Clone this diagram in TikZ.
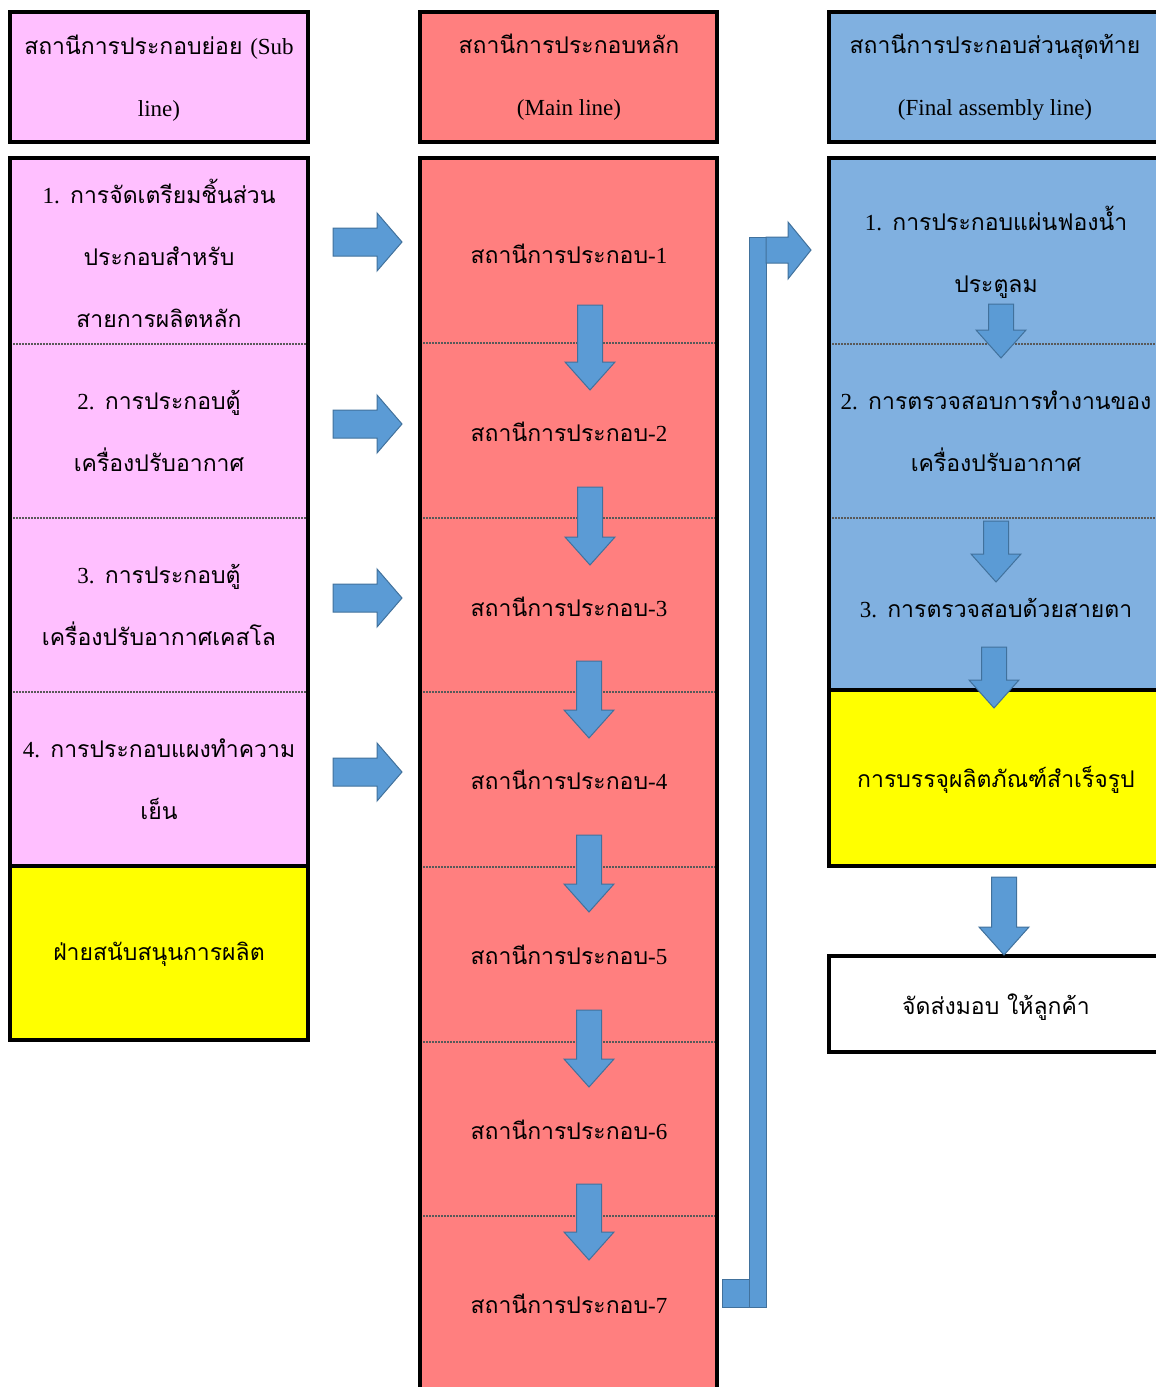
\documentclass[tikz,border=0pt]{standalone}
\usepackage{fontspec}
\setmainfont{Liberation Serif}
\newfontfamily\thai[Script=Thai]{Loma}
\definecolor{pinkc}{HTML}{FFBFFF}
\definecolor{redc}{HTML}{FF7F7F}
\definecolor{bluec}{HTML}{80B0E0}
\definecolor{yelc}{HTML}{FFFF00}
\definecolor{arrf}{HTML}{5B9BD5}
\definecolor{arrd}{HTML}{41719C}
\newcommand{\myRarr}[2]{%
  \draw[arr] (#1,#2-14) -- (#1+44,#2-14) -- (#1+44,#2-29) -- (#1+69,#2) -- (#1+44,#2+29) -- (#1+44,#2+14) -- (#1,#2+14) -- cycle;}
\newcommand{\myDarr}[3]{%
  \draw[arr] (#1-12.5,#2) -- (#1+12.5,#2) -- (#1+12.5,#3-28) -- (#1+25,#3-28) -- (#1,#3) -- (#1-25,#3-28) -- (#1-12.5,#3-28) -- cycle;}
\begin{document}
\begin{tikzpicture}[x=1pt,y=-1pt,
  lbl/.style={font=\thai\fontsize{23}{62}\selectfont, align=center, text=black, inner sep=0pt},
  sep/.style={draw=gray!70!black, line width=2.5pt, dash pattern=on 2pt off 1pt},
  frame/.style={draw=black, line width=4pt},
  arr/.style={fill=arrf, draw=arrd, line width=1pt, line join=miter}]
\useasboundingbox (0,0) rectangle (1156,1387);
% ---------- left column ----------
\fill[pinkc] (10,12) rectangle (308,142);
\draw[frame] (10,12) rectangle (308,142);
\fill[pinkc] (10,158) rectangle (308,866);
\fill[yelc] (10,866) rectangle (308,1040);
\foreach \yy in {344,518,692} \draw[sep] (10,\yy) -- (308,\yy);
\draw[frame] (10,866) -- (308,866);
\draw[frame] (10,158) rectangle (308,1040);
% ---------- middle column ----------
\fill[redc] (420,12) rectangle (717,142);
\draw[frame] (420,12) rectangle (717,142);
\fill[redc] (420,158) rectangle (717,1400);
\foreach \yy in {343,518,692,867,1042,1216} \draw[sep] (420,\yy) -- (717,\yy);
\draw[frame] (420,1400) -- (420,158) -- (717,158) -- (717,1400);
% ---------- right column ----------
\fill[bluec] (829,12) rectangle (1165,142);
\draw[frame] (829,12) rectangle (1165,142);
\fill[bluec] (829,158) rectangle (1165,690);
\fill[yelc] (829,690) rectangle (1165,866);
\foreach \yy in {344,518} \draw[sep] (829,\yy) -- (1165,\yy);
\draw[frame] (829,690) -- (1165,690);
\draw[frame] (829,158) rectangle (1165,866);
\fill[white] (829,956) rectangle (1165,1052);
\draw[frame] (829,956) rectangle (1165,1052);
% ---------- texts ----------
\node[lbl] (lh) at (159,78) {สถานีการประกอบย่อย {\rmfamily (Sub}\\{\rmfamily line)}};
\node[lbl] (l1) at (159,253) {{\rmfamily 1.} การจัดเตรียมชิ้นส่วน\\ประกอบสำหรับ\\สายการผลิตหลัก};
\node[lbl] (l2) at (159,431) {{\rmfamily 2.} การประกอบตู้\\เครื่องปรับอากาศ};
\node[lbl] (l3) at (159,605) {{\rmfamily 3.} การประกอบตู้\\เครื่องปรับอากาศเคสโล};
\node[lbl] (l4) at (159,779) {{\rmfamily 4.} การประกอบแผงทำความ\\เย็น};
\node[lbl] (l5) at (159,954) {ฝ่ายสนับสนุนการผลิต};
\node[lbl] (mh) at (569,77) {สถานีการประกอบหลัก\\{\rmfamily (Main line)}};
\node[lbl] (m1) at (569,254) {สถานีการประกอบ{\rmfamily -1}};
\node[lbl] (m2) at (569,432) {สถานีการประกอบ{\rmfamily -2}};
\node[lbl] (m3) at (569,607) {สถานีการประกอบ{\rmfamily -3}};
\node[lbl] (m4) at (569,780) {สถานีการประกอบ{\rmfamily -4}};
\node[lbl] (m5) at (569,955) {สถานีการประกอบ{\rmfamily -5}};
\node[lbl] (m6) at (569,1130) {สถานีการประกอบ{\rmfamily -6}};
\node[lbl] (m7) at (569,1304) {สถานีการประกอบ{\rmfamily -7}};
\node[lbl] (rh) at (995,77) {สถานีการประกอบส่วนสุดท้าย\\{\rmfamily (Final assembly line)}};
\node[lbl] (r1) at (996,252) {{\rmfamily 1.} การประกอบแผ่นฟองน้ำ\\ประตูลม};
\node[lbl] (r2) at (996,431) {{\rmfamily 2.} การตรวจสอบการทำงานของ\\เครื่องปรับอากาศ};
\node[lbl] (r3) at (996,608) {{\rmfamily 3.} การตรวจสอบด้วยสายตา};
\node[lbl] (r4) at (996,780) {การบรรจุผลิตภัณฑ์สำเร็จรูป};
\node[lbl] (r5) at (996,1007) {จัดส่งมอบ ให้ลูกค้า};
% ---------- arrows ----------
\foreach \yy in {242,424,598,772} \myRarr{333}{\yy};
\myDarr{590}{305}{390}
\myDarr{590}{487}{565}
\myDarr{589}{661}{738}
\myDarr{589}{835}{912}
\myDarr{589}{1010}{1087}
\myDarr{589}{1184}{1260}
\myDarr{1001}{304}{358}
\myDarr{996}{521}{582}
\myDarr{994}{647}{708}
\myDarr{1004}{877}{955}
% connector from station 7 to final line
\coordinate (cb) at (749,1307);
\coordinate (ct) at (766,237);
\draw[arr] (cb) rectangle (ct);
\draw[arr] (722,1279) rectangle (cb);
\draw[arr] (ct) -- (788,237) -- (788,222) -- (811,250) -- (788,279) -- (788,263) -- (766,263) -- cycle;
\end{tikzpicture}
\end{document}
